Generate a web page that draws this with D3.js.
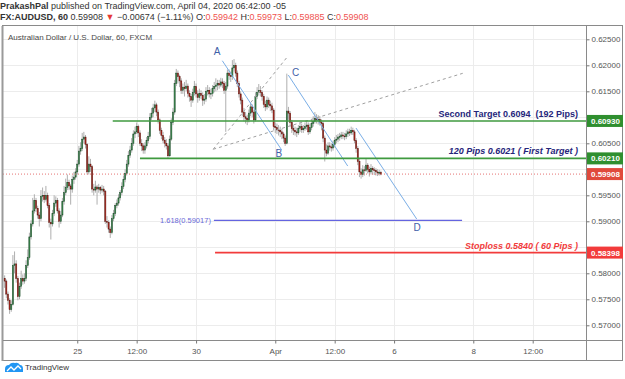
<!DOCTYPE html>
<html lang="en">
<head>
<meta charset="utf-8">
<title>AUDUSD 60 - TradingView</title>
<style>
  body { margin:0; background:#fff; }
  svg { display:block; font-family:"Liberation Sans", Arial, sans-serif; }
  .hdr { font-size:9px; fill:#333; }
  .legend { font-size:8px; fill:#4a4a4a; }
  .axis text { font-size:8px; fill:#555; }
  .grid line { stroke:#ececec; stroke-width:1; }
  .tag text { font-size:8px; font-weight:bold; fill:#fff; }
  .note { font-size:9px; font-weight:bold; }
  .pt { font-size:10px; fill:#3f5fa8; }
</style>
</head>
<body>
<svg id="chart" width="625" height="379"></svg>
<script src="https://cdnjs.cloudflare.com/ajax/libs/d3/7.8.5/d3.min.js"></script>
<script>
// hourly bars, index 0 = Mar 25 00:00 (-05), weekend hours skipped
// prices in pips (x 10000); open of each bar = close of the previous one
var firstIndex = -44;
var firstOpen = 5790;
var closes = [
  5785,5760,5748,5730,5740,5815,5818,5790,5755,5775,
  5790,5785,5790,5815,5830,5870,5895,5920,5940,5925,
  5912,5905,5948,5950,5942,5950,5930,5898,5895,5915,
  5935,5940,5920,5900,5912,5938,5955,5965,5975,5968,
  5962,5980,5985,5995,6010,6035,6040,6058,6062,6048,
  5995,6010,6005,5962,5960,5966,5962,5965,5960,5962,
  5958,5900,5898,5885,5878,5905,5915,5930,5935,5945,
  5955,5967,5980,5992,6010,6027,6037,6050,6068,6072,
  6082,6070,6050,6045,6037,6045,6055,6063,6100,6108,
  6118,6124,6110,6095,6075,6065,6056,6050,6045,6026,
  6058,6090,6110,6165,6185,6178,6170,6152,6158,6155,
  6160,6146,6140,6133,6148,6159,6145,6138,6146,6142,
  6133,6135,6150,6152,6145,6146,6155,6159,6162,6165,
  6162,6168,6165,6152,6160,6185,6180,6178,6195,6200,
  6185,6165,6145,6133,6110,6101,6098,6095,6108,6120,
  6110,6095,6140,6148,6152,6148,6140,6125,6120,6133,
  6125,6122,6114,6082,6080,6076,6075,6072,6068,6060,
  6050,6112,6108,6090,6078,6075,6072,6070,6079,6082,
  6076,6078,6082,6085,6072,6080,6088,6092,6098,6095,
  6096,6090,6088,6060,6037,6031,6045,6043,6041,6048,
  6056,6058,6062,6063,6066,6064,6063,6068,6072,6070,
  6075,6072,6055,6040,6015,5995,5990,5999,5998,6008,
  6000,5995,6002,5999,5998,5995,5993,5994,5990.8
];
var highs = [
  5796,5788,5765,5752,5748,5835,5842,5825,5795,5782,
  5805,5798,5800,5825,5846,5878,5902,5945,5952,5945,
  5930,5918,5960,5965,5958,5968,5955,5935,5905,5922,
  5950,5948,5945,5925,5920,5945,5968,5982,5990,5980,
  5972,5988,5995,6002,6018,6045,6052,6070,6072,6066,
  6050,6025,6020,6008,5972,5978,5970,5972,5968,5970,
  5968,5960,5910,5902,5890,5912,5922,5935,5942,5952,
  5960,5975,5988,6000,6018,6035,6045,6060,6075,6082,
  6090,6086,6075,6058,6050,6052,6062,6072,6108,6118,
  6126,6132,6128,6115,6098,6080,6072,6062,6058,6050,
  6065,6098,6118,6172,6193,6190,6182,6175,6165,6168,
  6172,6165,6152,6145,6155,6170,6165,6152,6155,6152,
  6148,6145,6158,6162,6158,6155,6162,6168,6175,6172,
  6172,6176,6175,6170,6168,6192,6192,6188,6210,6212,
  6205,6190,6170,6150,6138,6118,6110,6105,6115,6128,
  6125,6115,6148,6158,6164,6160,6152,6145,6132,6140,
  6138,6132,6128,6118,6090,6088,6085,6082,6078,6072,
  6065,6184,6120,6112,6095,6085,6082,6080,6085,6090,
  6088,6085,6090,6094,6090,6088,6095,6102,6110,6106,
  6104,6102,6096,6092,6065,6048,6052,6052,6050,6055,
  6062,6066,6068,6070,6072,6072,6070,6075,6078,6078,
  6082,6080,6076,6060,6045,6020,6002,6008,6006,6020,
  6012,6005,6010,6006,6004,6002,6000,5999,5997.3
];
var lows = [
  5772,5752,5740,5722,5726,5738,5800,5782,5748,5750,
  5770,5778,5780,5785,5810,5826,5865,5890,5915,5918,
  5905,5890,5900,5938,5935,5938,5925,5888,5865,5890,
  5910,5928,5915,5888,5895,5908,5932,5950,5960,5960,
  5932,5955,5972,5980,5990,6005,6028,6035,6050,6040,
  5990,5990,5995,5955,5950,5955,5932,5955,5952,5955,
  5950,5895,5888,5878,5868,5875,5900,5910,5925,5930,
  5940,5950,5962,5975,5988,6005,6022,6032,6045,6060,
  6068,6062,6045,6035,6030,6030,6040,6050,6058,6095,
  6100,6110,6102,6088,6068,6058,6050,6042,6038,6020,
  6024,6055,6085,6105,6160,6165,6158,6145,6145,6140,
  6150,6138,6130,6120,6128,6142,6138,6128,6132,6135,
  6122,6125,6130,6142,6138,6135,6140,6148,6150,6152,
  6155,6158,6156,6145,6072,6155,6172,6168,6172,6188,
  6178,6158,6138,6125,6102,6092,6088,6085,6090,6102,
  6100,6088,6092,6135,6142,6140,6132,6118,6112,6115,
  6118,6112,6108,6075,6070,6068,6065,6062,6058,6052,
  6045,6048,6095,6082,6070,6066,6065,6062,6066,6072,
  6070,6070,6074,6076,6066,6068,6075,6082,6088,6088,
  6086,6084,6075,6052,6015,6025,6028,6036,6034,6036,
  6042,6050,6052,6055,6058,6058,6056,6058,6062,6064,
  6066,6066,6050,6032,6008,5985,5982,5985,5988,5995,
  5992,5986,5990,5990,5989,5988,5987,5988,5988.5
];

// axis ticks
var priceTicks = [0.570, 0.575, 0.580, 0.585, 0.590, 0.595, 0.600, 0.605, 0.610, 0.615, 0.620, 0.625];
var timeTickIndex = [0, 36, 72, 120, 156, 192, 240, 276];
var timeTickLabels = ["25", "12:00", "30", "Apr", "12:00", "6", "8", "12:00"];

// drawings (bar index, price)
var levelPrices = [0.6093, 0.6021, 0.58398];
var levelStart = [21.5, 38, 83.5];
var levelText = ["Second Target 0.6094  (192 Pips)", "120 Pips 0.6021 ( First Target )", "Stoploss 0.5840 ( 60 Pips )"];
var levelTags = ["0.60930", "0.60210", "0.58398"];
var lastPrice = 0.59908;
var lastTag = "0.59908";
var fibPrice = 0.59017;
var fibSpan = [82.8, 233.2];
var fibLabel = "1.618(0.59017)";
var pointNames = ["A", "B", "C", "D"];
var pointIndex = [84.7, 122.2, 132.4, 205.9];
var pointPrice = [0.62281, 0.60313, 0.61871, 0.58890];
var legLines = [[87.9, 0.62088, 123.9, 0.60371], [127.9, 0.61813, 163.9, 0.60063], [168.9, 0.60794, 205.7, 0.59044]];
var dashLines = [[82.4, 0.60385, 127.1, 0.62154], [82.4, 0.60385, 233.6, 0.61846]];

var svg = d3.select('#chart');
var plot = {left:3, top:26, right:586, bottom:340};

var x = d3.scaleLinear().domain([-45, 308.3]).range([plot.left, plot.right]);
var y = d3.scaleLinear().domain([0.56717, 0.62756]).range([plot.bottom, plot.top]);

var bars = closes.map(function(c, k) {
  var o = k === 0 ? firstOpen : closes[k - 1];
  return {i: firstIndex + k, o: o / 1e4, c: c / 1e4,
          h: Math.max(highs[k], o, c) / 1e4, l: Math.min(lows[k], o, c) / 1e4};
});

//header
var h1 = svg.append('text').attr('class', 'hdr').attr('x', 0).attr('y', 9);
h1.append('tspan').attr('font-weight', 'bold').text('PrakashPal');
h1.append('tspan').text(' published on TradingView.com, April 04, 2020 06:42:00 -05');

var h2 = svg.append('text').attr('class', 'hdr').attr('x', 0).attr('y', 20).attr('xml:space', 'preserve');
h2.append('tspan').attr('font-weight', 'bold').text('FX:AUDUSD, 60');
h2.append('tspan').text(' 0.59908 ');
h2.append('tspan').attr('fill', '#e53935').text('\u25BC');
h2.append('tspan').text(' \u22120.00674 (\u22121.11%) O:');
h2.append('tspan').attr('fill', '#ef5350').text('0.59942');
h2.append('tspan').text(' H:');
h2.append('tspan').attr('fill', '#ef5350').text('0.59973');
h2.append('tspan').text(' L:');
h2.append('tspan').attr('fill', '#ef5350').text('0.59885');
h2.append('tspan').text(' C:');
h2.append('tspan').attr('fill', '#ef5350').text('0.59908');

//frame and grid
svg.append('defs').append('clipPath').attr('id', 'clip')
  .append('rect').attr('x', plot.left).attr('y', plot.top)
  .attr('width', plot.right - plot.left).attr('height', plot.bottom - plot.top);

var grid = svg.append('g').attr('class', 'grid');
grid.selectAll('.gy').data(priceTicks).enter().append('line')
  .attr('x1', plot.left).attr('x2', plot.right)
  .attr('y1', function(d){ return Math.round(y(d)) + 0.5; })
  .attr('y2', function(d){ return Math.round(y(d)) + 0.5; });
grid.selectAll('.gx').data(timeTickIndex).enter().append('line')
  .attr('y1', plot.top).attr('y2', plot.bottom)
  .attr('x1', function(d){ return Math.round(x(d)) + 0.5; })
  .attr('x2', function(d){ return Math.round(x(d)) + 0.5; });

svg.append('text').attr('class', 'legend').attr('x', 8).attr('y', 40)
  .text('Australian Dollar / U.S. Dollar, 60, FXCM');

var chart = svg.append('g').attr('clip-path', 'url(#clip)');

// candles
var bw = (x(1) - x(0)) * 0.7;
var candle = chart.selectAll('.candle').data(bars).enter().append('g');
candle.append('line')
  .attr('x1', function(d){ return x(d.i); }).attr('x2', function(d){ return x(d.i); })
  .attr('y1', function(d){ return y(d.h); }).attr('y2', function(d){ return y(d.l); })
  .attr('stroke', '#9a9a9a').attr('stroke-width', 0.8);
candle.append('rect')
  .attr('x', function(d){ return x(d.i) - bw / 2; })
  .attr('width', bw)
  .attr('y', function(d){ return y(Math.max(d.o, d.c)); })
  .attr('height', function(d){ return Math.max(0.8, Math.abs(y(d.o) - y(d.c))); })
  .attr('fill', function(d){ return d.c >= d.o ? '#3d8f4f' : '#b3241b'; })
  .attr('stroke', function(d){ return d.c >= d.o ? '#1d4a2a' : '#5b1a13'; })
  .attr('stroke-width', 0.5);

// last price dotted line
chart.append('line')
  .attr('x1', plot.left).attr('x2', plot.right)
  .attr('y1', y(lastPrice)).attr('y2', y(lastPrice))
  .attr('stroke', '#e57373').attr('stroke-width', 1).attr('stroke-dasharray', '1,2');

// dashed fan lines
chart.selectAll('.dash').data(dashLines).enter().append('line')
  .attr('x1', function(d){ return x(d[0]); }).attr('y1', function(d){ return y(d[1]); })
  .attr('x2', function(d){ return x(d[2]); }).attr('y2', function(d){ return y(d[3]); })
  .attr('stroke', '#a0a0a0').attr('stroke-width', 1).attr('stroke-dasharray', '3,3');

// abcd legs
chart.selectAll('.leg').data(legLines).enter().append('line')
  .attr('x1', function(d){ return x(d[0]); }).attr('y1', function(d){ return y(d[1]); })
  .attr('x2', function(d){ return x(d[2]); }).attr('y2', function(d){ return y(d[3]); })
  .attr('stroke', '#7aaee6').attr('stroke-width', 1);

// target / stop rays
var levelColor = ['#3f9a3f', '#3f9a3f', '#f23b3b'];
var textColor = ['#25257a', '#25257a', '#f23b3b'];
chart.selectAll('.lvl').data(levelPrices).enter().append('line')
  .attr('x1', function(d, k){ return x(levelStart[k]); }).attr('x2', plot.right)
  .attr('y1', function(d){ return y(d); }).attr('y2', function(d){ return y(d); })
  .attr('stroke', function(d, k){ return levelColor[k]; }).attr('stroke-width', 1.6);
chart.selectAll('.lvlt').data(levelPrices).enter().append('text')
  .attr('class', 'note').attr('xml:space', 'preserve')
  .attr('x', plot.right - 8).attr('y', function(d){ return y(d) - 4; })
  .attr('text-anchor', 'end')
  .attr('font-style', function(d, k){ return k === 0 ? 'normal' : 'italic'; })
  .attr('fill', function(d, k){ return textColor[k]; })
  .text(function(d, k){ return levelText[k]; });

// fib extension
chart.append('line')
  .attr('x1', x(fibSpan[0])).attr('x2', x(fibSpan[1]))
  .attr('y1', y(fibPrice)).attr('y2', y(fibPrice))
  .attr('stroke', '#6464e0').attr('stroke-width', 1.4);
chart.append('text')
  .attr('x', x(fibSpan[0]) - 3).attr('y', y(fibPrice) + 3)
  .attr('text-anchor', 'end').attr('font-size', '7.5px').attr('fill', '#6a6ad8')
  .text(fibLabel);

// point labels
chart.selectAll('.pt').data(pointNames).enter().append('text')
  .attr('class', 'pt').attr('text-anchor', 'middle')
  .attr('x', function(d, k){ return x(pointIndex[k]); })
  .attr('y', function(d, k){ return y(pointPrice[k]) + 4; })
  .text(function(d){ return d; });

// frame
svg.append('rect').attr('x', plot.left - 0.5).attr('y', plot.top - 0.5)
  .attr('width', 623 - plot.left).attr('height', 361 - plot.top)
  .attr('fill', 'none').attr('stroke', '#8a8a8a');
svg.append('line').attr('x1', plot.left - 0.5).attr('x2', plot.left - 0.5)
  .attr('y1', plot.top).attr('y2', 361).attr('stroke', '#9a9a9a').attr('stroke-width', 2);
svg.append('line').attr('x1', plot.right + 0.5).attr('x2', plot.right + 0.5)
  .attr('y1', plot.top).attr('y2', 361).attr('stroke', '#8a8a8a');
svg.append('line').attr('x1', plot.left).attr('x2', 623)
  .attr('y1', plot.bottom + 0.5).attr('y2', plot.bottom + 0.5).attr('stroke', '#8a8a8a');

// price axis; labels hidden under a price tag are dropped
var tagPrices = levelPrices.concat([lastPrice]);
var yAxis = d3.axisRight(y).tickValues(priceTicks).tickSize(3).tickFormat(d3.format('.5f'));
svg.append('g').attr('class', 'axis').attr('transform', 'translate(' + (plot.right + 0.5) + ',0)')
  .call(yAxis).call(function(g){
    g.select('.domain').remove();
    g.selectAll('line').attr('stroke', '#777');
    g.selectAll('text').attr('x', 5)
      .filter(function(d){ return tagPrices.some(function(t){ return Math.abs(y(t) - y(d)) < 11; }); })
      .remove();
  });

// time axis
var xAxis = d3.axisBottom(x).tickValues(timeTickIndex).tickSize(3)
  .tickFormat(function(d, k){ return timeTickLabels[k]; });
svg.append('g').attr('class', 'axis').attr('transform', 'translate(0,' + (plot.bottom + 0.5) + ')')
  .call(xAxis).call(function(g){
    g.select('.domain').remove();
    g.selectAll('line').attr('stroke', '#777');
    g.selectAll('text').attr('y', 8);
  });

// price tags
var tagColor = ['#2f8f2f', '#2f8f2f', '#f23b3b', '#e04a3c'];
var tagText = levelTags.concat([lastTag]);
var tags = svg.selectAll('.tag').data(tagPrices).enter().append('g').attr('class', 'tag');
tags.append('rect')
  .attr('x', plot.right + 1).attr('width', 623 - plot.right - 1)
  .attr('y', function(d){ return y(d) - 6; }).attr('height', 12)
  .attr('fill', function(d, k){ return tagColor[k]; });
tags.append('text')
  .attr('x', plot.right + 5).attr('y', function(d){ return y(d) + 3; })
  .text(function(d, k){ return tagText[k]; });

// TradingView logo
var logo = svg.append('g').attr('transform', 'translate(5,362)');
logo.append('path')
  .attr('d', 'M0,10 L0,7 Q0,3 4,3 Q6,0 10,1 Q13,0 15,3 Q18,3 18,7 L18,10 Z')
  .attr('fill', '#2196f3');
logo.append('path').attr('d', 'M2,9 L6,5 L9,8 L13,4 L16,7')
  .attr('fill', 'none').attr('stroke', '#fff').attr('stroke-width', 1.3);
svg.append('text').attr('x', 25).attr('y', 370).attr('font-size', '8px').attr('fill', '#333')
  .text('TradingView');
</script>
</body>
</html>
